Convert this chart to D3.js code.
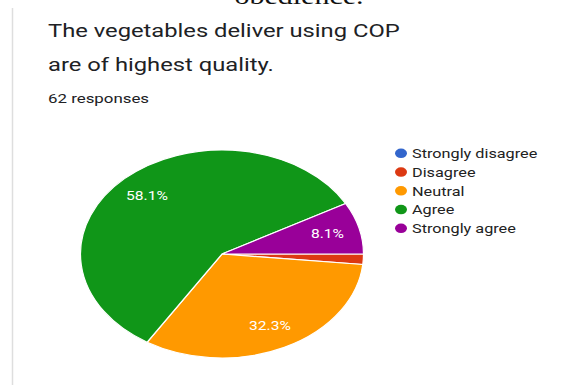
<!DOCTYPE html>
<html>
<head>
<meta charset="utf-8">
<script src="https://cdn.jsdelivr.net/npm/d3@7"></script>
<style>
  html, body { margin: 0; padding: 0; background: #fff; }
  svg { display: block; }
</style>
</head>
<body>
<svg id="chart" width="575" height="385"></svg>
<script>
// Survey answers (62 responses)
const categories = ["Strongly disagree", "Disagree", "Neutral", "Agree", "Strongly agree"];
const counts = [0, 1, 20, 36, 5];
const colors = ["#3366cc", "#dc3912", "#ff9900", "#109618", "#990099"];
const titleLines = ["The vegetables deliver using COP", "are of highest quality."];
const subtitle = "62 responses";

const W = 575, H = 385;
const svg = d3.select("#chart");
const stretch = 1.25;            // horizontal stretch applied to text
const total = d3.sum(counts);

// helper: text stretched horizontally around its anchor point
function stretchedText(parent, x, y, str, opts) {
  const t = parent.append("text")
    .attr("transform", `translate(${x},${y}) scale(${stretch},1)`)
    .attr("font-family", opts.family || "Roboto, 'Noto Sans', sans-serif")
    .attr("font-size", opts.size)
    .attr("fill", opts.fill || "#212121")
    .attr("text-anchor", opts.anchor || "start")
    .text(str);
  return t;
}

// caption line from the preceding page, cut at the top edge
stretchedText(svg, 299, 3.5, "obedience.", { family: "'Liberation Serif', 'Times New Roman', serif", size: 24, fill: "#111", anchor: "middle" });

// card left border
svg.append("line")
  .attr("x1", 12.5).attr("x2", 12.5).attr("y1", 8).attr("y2", H)
  .attr("stroke", "#dedede").attr("stroke-width", 1.5);

// title and response count
stretchedText(svg, 48, 36.5, titleLines[0], { size: 19, fill: "#202124" });
stretchedText(svg, 48, 71, titleLines[1], { size: 19, fill: "#202124" });
stretchedText(svg, 48, 103, subtitle, { size: 13.5, fill: "#202124" });

// pie (drawn as a circle, stretched into an ellipse)
const cx = 222, cy = 254, ry = 104, rx = 141.5;
const sx = rx / ry;

const pie = d3.pie().sort(null).value(d => d.value)
  .startAngle(Math.PI / 2).endAngle(Math.PI / 2 + 2 * Math.PI);
const data = categories.map((c, i) => ({ name: c, value: counts[i], color: colors[i] }));
const arcs = pie(data);

const arc = d3.arc().innerRadius(0).outerRadius(ry);
const labelArc = d3.arc().innerRadius(ry * 0.77).outerRadius(ry * 0.77);

const pieG = svg.append("g").attr("transform", `translate(${cx},${cy}) scale(${sx},1)`);
pieG.selectAll("path")
  .data(arcs.filter(d => d.value > 0))
  .join("path")
  .attr("d", arc)
  .attr("fill", d => d.data.color)
  .attr("stroke", "#fff")
  .attr("stroke-width", 1.2)
  .attr("vector-effect", "non-scaling-stroke");

// percentage labels on slices large enough to hold them
const labelG = svg.append("g");
arcs.filter(d => d.value / total > 0.05).forEach(d => {
  const [lx, ly] = labelArc.centroid(d);
  stretchedText(labelG, cx + lx * sx, cy + ly + 4.5,
    d3.format(".1%")(d.value / total), { size: 12.5, fill: "#fff", anchor: "middle" });
});

// legend
const legend = svg.append("g");
const legendY = d3.scalePoint().domain(categories).range([158, 233]);
categories.forEach((c, i) => {
  const y = legendY(c);
  legend.append("ellipse")
    .attr("cx", 401).attr("cy", y - 4.7)
    .attr("rx", 6).attr("ry", 4.8)
    .attr("fill", colors[i]);
  stretchedText(legend, 412, y, c, { size: 13, fill: "#222" });
});
</script>
</body>
</html>
